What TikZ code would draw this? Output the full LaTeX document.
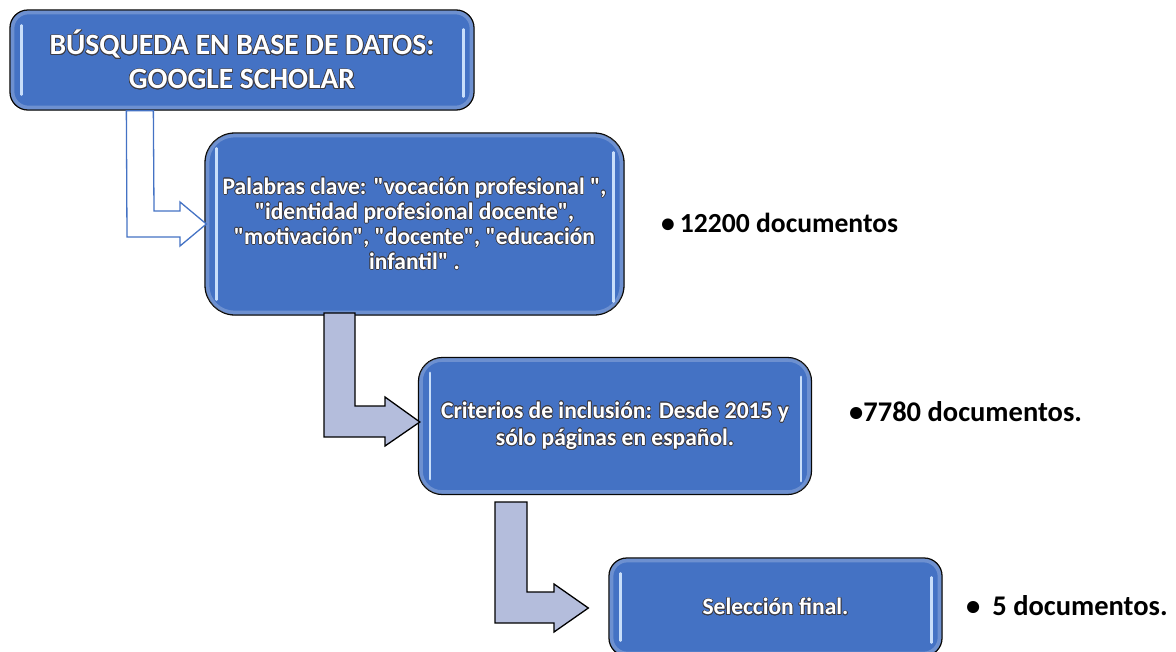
\documentclass[tikz,border=0pt]{standalone}
\usepackage{fontspec}
\setmainfont{Carlito}[Ligatures=TeXOff]
\usepackage{contour}
\contourlength{0.7pt}
\usetikzlibrary{calc}
\definecolor{boxblue}{RGB}{68,114,196}
\definecolor{hlblue}{RGB}{200,222,250}
\definecolor{arrowgray}{RGB}{180,189,220}
\definecolor{outl}{RGB}{60,60,70}
\newcommand\wt[1]{\contour{outl}{#1}}
\begin{document}
\begin{tikzpicture}[x=1pt,y=-1pt,
 box/.style={draw=black, line width=1.3pt, fill=boxblue, text=white, align=center, inner sep=0pt},
 hl/.style={draw=hlblue, line width=2.5pt, line cap=round},
 glow/.style={draw=white, opacity=0.22, line width=4pt},
 blockarrow/.style={draw=black, line width=1.3pt, fill=arrowgray, line join=miter},
 openarrow/.style={draw=boxblue, line width=1.3pt, fill=white, line join=miter},
 count/.style={anchor=west, font=\fontsize{28.5}{32}\selectfont\bfseries, inner sep=0pt}]
\useasboundingbox (0,0) rectangle (1176,651);

% boxes
\node[box, minimum width=464pt, minimum height=100pt, rounded corners=18pt,
      font=\fontsize{29.5}{34}\selectfont\bfseries] (b1) at (242,60)
  {\wt{BÚSQUEDA EN BASE DE DATOS:}\\\wt{GOOGLE SCHOLAR}};
\node[box, minimum width=419pt, minimum height=182pt, rounded corners=30pt,
      font=\fontsize{23.5}{25}\selectfont\bfseries] (b2) at (414.5,224)
  {\wt{Palabras clave: "vocación profesional ",}\\\wt{"identidad profesional docente",}\\\wt{"motivación", "docente", "educación}\\\wt{infantil" .}};
\node[box, minimum width=393pt, minimum height=137pt, rounded corners=24pt,
      font=\fontsize{23.5}{27}\selectfont\bfseries] (b3) at (615,426)
  {\wt{Criterios de inclusión: Desde 2015 y}\\\wt{sólo páginas en español.}};
\node[box, minimum width=333pt, minimum height=98pt, rounded corners=18pt,
      font=\fontsize{23.5}{26}\selectfont\bfseries] (b4) at (775.5,607)
  {\wt{Selección final.}};

% glossy highlights
\foreach \b/\r in {b1/16pt, b2/27pt, b3/21pt, b4/16pt}{
  \draw[glow, rounded corners=\r] ([shift={(3pt,-3pt)}]\b.north west) rectangle ([shift={(-3pt,3pt)}]\b.south east);
  \draw[hl] ([shift={(12pt,-16pt)}]\b.north west) -- ([shift={(12pt,16pt)}]\b.south west);
  \draw[hl] ([shift={(-11pt,-20pt)}]\b.north east) -- ([shift={(-11pt,14pt)}]\b.south east);
}

% bent arrows
\draw[openarrow] ($(b1.south west)+(117,0)$) -- ($(b1.south west)+(144,0)$)
  -- (154,211) -- (180,211) -- (180,202) -- ($(b2.west)+(2,0)$) -- (180,246) -- (180,237)
  -- (127,237) -- cycle;
\draw[blockarrow] (324,313) -- (355,313) -- (355,406) -- (385,406) -- (385,397)
  -- ($(b3.west)+(2,-4)$) -- (385,446) -- (385,437) -- (324,437) -- cycle;
\draw[blockarrow] (495,502) -- (527,502) -- (527,592) -- (554,592) -- (554,584)
  -- ($(b4.west)+(-20,1)$) -- (554,632) -- (554,623) -- (495,623) -- cycle;

% counts
\node[count, font=\fontsize{27.6}{32}\selectfont\bfseries] (c1) at (661,223) {•\hspace{5pt}12200 documentos};
\node[count] (c2) at (849,412) {•7780 documentos.};
\node[count] (c3) at (966,606) {•\hspace{12pt}5 documentos.};
\end{tikzpicture}
\end{document}
